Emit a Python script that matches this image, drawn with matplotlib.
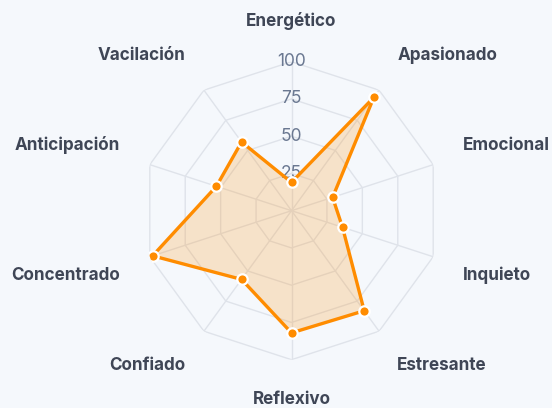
import numpy as np
import matplotlib
matplotlib.use("Agg")
import matplotlib.pyplot as plt

LABELS = ["Energético", "Apasionado", "Emocional", "Inquieto", "Estresante",
          "Reflexivo", "Confiado", "Concentrado", "Anticipación", "Vacilación"]
VALUES = [19, 94, 29, 36, 83, 82, 57, 98, 53, 57]
TICKS = [25, 50, 75, 100]

BG = "#f5f8fc"
GRID = "#dfe3ea"
ORANGE = "#ff8c00"
LABEL_COLOR = "#3f4656"
TICK_COLOR = "#6a7891"

W, H, DPI = 552, 408, 100
CX, CY, R = 291.5, 210.7, 149.0  # centre and outer radius, pixels

fig = plt.figure(figsize=(W / DPI, H / DPI), dpi=DPI, facecolor=BG)
ax = fig.add_axes([(CX - R) / W, (H - CY - R) / H, 2 * R / W, 2 * R / H],
                  projection="polar")
ax.set_facecolor(BG)
ax.set_theta_zero_location("N")
ax.set_theta_direction(-1)
ax.set_ylim(0, 100)
ax.grid(False)
ax.spines["polar"].set_visible(False)
ax.set_xticks([])
ax.set_yticks([])
ax.patch.set_alpha(0)

n = len(LABELS)
theta = np.linspace(0, 2 * np.pi, n, endpoint=False)
ring_t = np.append(theta, theta[0])

# decagon grid rings and spokes
for t in TICKS:
    ax.plot(ring_t, [t] * (n + 1), color=GRID, lw=1, zorder=1)
for th in theta:
    ax.plot([th, th], [0, 100], color=GRID, lw=1, zorder=1)

# radial tick labels
for t in TICKS:
    ax.text(0, t, str(t), ha="center", va="center", color=TICK_COLOR,
            fontsize=12.5, family="Inter", zorder=2)

vals = np.append(VALUES, VALUES[0])
ax.fill(ring_t, vals, color=ORANGE, alpha=0.2, lw=0, zorder=3)
ax.plot(ring_t, vals, color=ORANGE, lw=2.4, zorder=4, solid_joinstyle="miter")
ax.plot(theta, VALUES, "o", color=ORANGE, ms=7.5, mec="white", mew=1.6,
        zorder=5)

# point labels
pad = 31
for lab, th in zip(LABELS, theta):
    s, c = np.sin(th), np.cos(th)
    if abs(s) < 0.05:
        ha = "center"
    else:
        ha = "left" if s > 0 else "right"
    dy = 10 if c > 0 else -9
    ax.annotate(lab, xy=(th, 100), xytext=(pad * s, pad * c + dy),
                textcoords="offset pixels", ha=ha, va="center",
                color=LABEL_COLOR, fontsize=12.3, family="Inter",
                fontweight="bold", annotation_clip=False)

fig.savefig("out.png", dpi=DPI, facecolor=BG)
